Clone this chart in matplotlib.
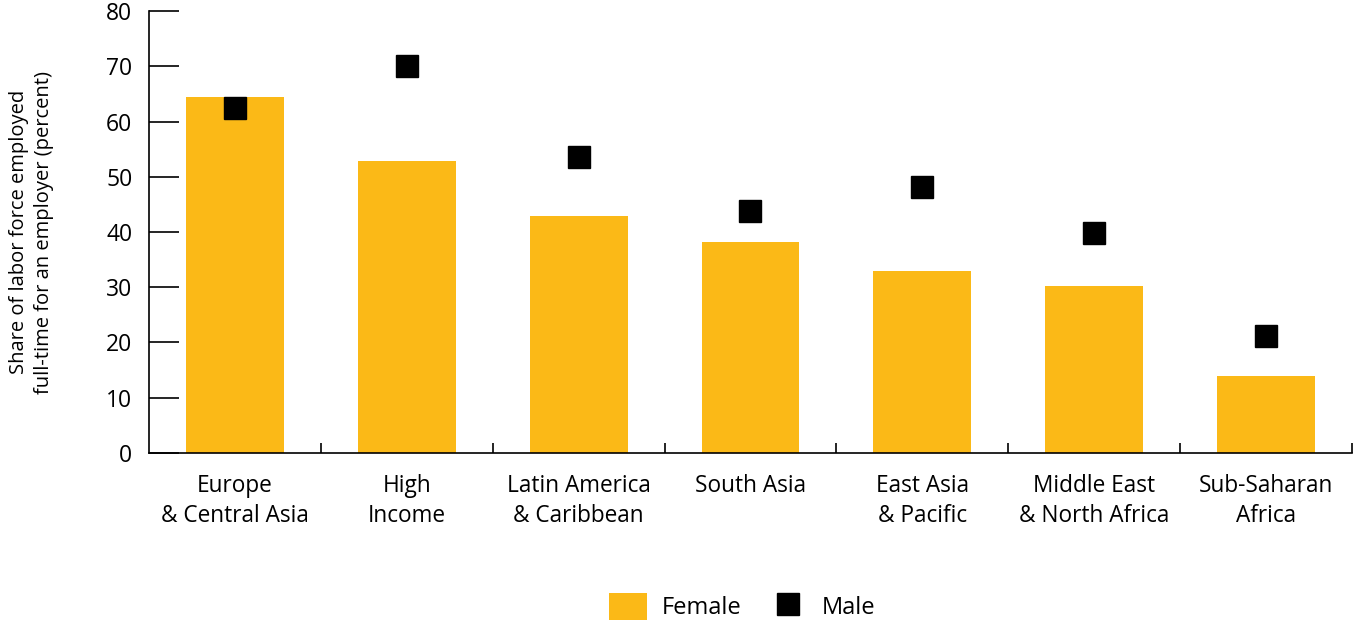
import numpy as np
import matplotlib.pyplot as plt
from matplotlib.patches import Patch
from matplotlib.lines import Line2D

plt.rcParams['font.family'] = ['Open Sans', 'DejaVu Sans']

regions = ['Europe\n& Central Asia', 'High\nIncome', 'Latin America\n& Caribbean',
           'South Asia', 'East Asia\n& Pacific', 'Middle East\n& North Africa',
           'Sub-Saharan\nAfrica']
female = [64.4, 52.9, 42.9, 38.2, 32.9, 30.2, 13.9]
male = [62.4, 70.0, 53.6, 43.8, 48.1, 39.8, 21.2]

bar_color = '#FBB917'

fig = plt.figure(figsize=(13.57, 6.23), dpi=100)
ax = fig.add_axes([0.1098, 0.2729, 0.8865, 0.7094])

x = np.arange(len(regions))
ax.bar(x, female, width=0.57, color=bar_color, zorder=2)
ax.plot(x, male, linestyle='none', marker='s', markersize=16.5,
        color='black', zorder=3)

ax.set_xlim(-0.5, len(regions) - 0.5)
ax.set_ylim(0, 80)
ax.set_yticks(range(0, 81, 10))
ax.set_xticks(x)
ax.set_xticklabels(regions, fontsize=16.3, linespacing=1.35)
ax.set_xticks(np.arange(0.5, len(regions), 1), minor=True)
ax.tick_params(axis='x', which='major', length=0, pad=15)
ax.tick_params(axis='x', which='minor', direction='in', length=7, width=1.2)
ax.tick_params(axis='y', direction='in', length=21.5, width=1.2, labelsize=16.5, pad=12)

for s in ['top', 'right']:
    ax.spines[s].set_visible(False)
ax.spines['left'].set_linewidth(1.2)
ax.spines['bottom'].set_linewidth(1.2)

ax.set_ylabel('Share of labor force employed\nfull-time for an employer (percent)',
              fontsize=14.5, linespacing=1.3)
ax.yaxis.set_label_coords(-0.079, 0.5)

handles = [Patch(facecolor=bar_color, edgecolor='none', label='Female'),
           Line2D([], [], linestyle='none', marker='s', markersize=16.5,
                  color='black', label='Male')]
fig.legend(handles=handles, loc='lower center', bbox_to_anchor=(0.547, -0.03),
           ncol=2, frameon=False, fontsize=17, handlelength=1.6, handleheight=1.4,
           columnspacing=1.15, handletextpad=0.65)

fig.savefig('out.png', dpi=100)
